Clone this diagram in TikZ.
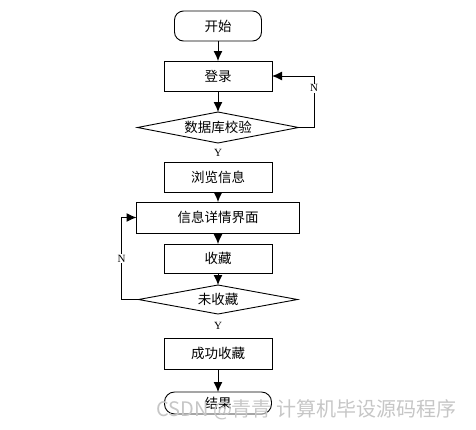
\documentclass[tikz,border=0pt]{standalone}
\usepackage{fontspec}
\setmainfont{Liberation Serif}
\newfontfamily\cjk{Noto Sans CJK SC}
\usetikzlibrary{positioning, shapes.geometric, arrows.meta, calc}

\tikzset{
  box/.style={draw, line width=0.9pt, inner sep=0pt, outer sep=0pt,
    font=\cjk\fontsize{13.5}{15}\selectfont},
  terminal/.style={box, rounded corners=9pt, minimum width=87pt, minimum height=30pt},
  process/.style={box, minimum width=108pt, minimum height=30pt},
  decision/.style={box, diamond, shape aspect=5, minimum width=161pt, minimum height=31pt},
  flow/.style={line width=1pt, -{Latex[length=10pt, width=9pt]}},
  yn/.style={fill=white, inner sep=1pt, font=\fontsize{11}{12}\selectfont}
}

\begin{document}
\begin{tikzpicture}[x=1pt, y=1pt]
  \useasboundingbox (0,0) rectangle (476,-429);
  \node [terminal] (start) at (218,-26) {开始};
  \node [process, below=20pt of start] (login) {登录};
  \node [decision, below=21pt of login] (check) {数据库校验};
  \node [process, below=19pt of check] (browse) {浏览信息};
  \node [process, minimum width=163pt, minimum height=31pt, below=10pt of browse] (detail) {信息详情界面};
  \node [process, minimum height=29pt, below=11pt of detail] (fav) {收藏};
  \node [decision, minimum width=159pt, minimum height=29pt, below=12pt of fav] (notfav) {未收藏};
  \node [process, minimum height=31pt, below=24pt of notfav] (done) {成功收藏};
  \node [terminal, minimum width=107pt, minimum height=22pt, rounded corners=10pt, below=23pt of done] (end) {结果};

  % Y labels, no line drawn
  \node [yn] (y1) at ($(check.south)!0.5!(browse.north)$) {Y};
  \node [yn] (y2) at ($(notfav.south)!0.5!(done.north)$) {Y};

  \draw [flow] (start) -- (login);
  \draw [flow] (login) -- (check);
  \draw [flow] (browse) -- (detail);
  \draw [flow] (detail) -- (fav);
  \draw [flow] (fav) -- (notfav);
  \draw [flow] (done) -- (end);
  \draw [flow] (check.east) -| node [yn, pos=0.88] {N} ([xshift=42pt]login.east) -- (login.east);
  \draw [flow] (notfav.west) -| node [yn, pos=0.75] {N} ([xshift=-15pt]detail.west) -- (detail.west);

  % watermark
  \node [anchor=west, text=gray!45, font=\cjk\fontsize{20}{22}\selectfont, inner sep=0pt]
    (mark) at (156,-410) {CSDN @青青\ 计算机毕设源码程序};
\end{tikzpicture}
\end{document}
